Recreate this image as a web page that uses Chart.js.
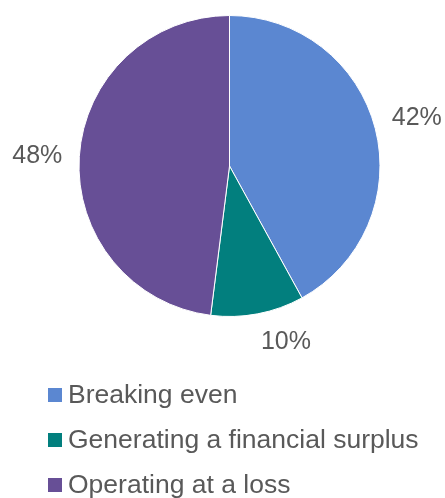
<!DOCTYPE html>
<html>
<head>
<meta charset="utf-8">
<script src="https://cdn.jsdelivr.net/npm/chart.js@4/dist/chart.umd.min.js"></script>
<style>
  html, body { margin: 0; padding: 0; background: #fff; }
  #wrap { width: 445px; height: 498px; }
</style>
</head>
<body>
<div id="wrap"><canvas id="pie" width="445" height="498"></canvas></div>
<script>
// Data
const categories = ['Breaking even', 'Generating a financial surplus', 'Operating at a loss'];
const shares = [42, 10, 48];
const pctLabels = ['42%', '10%', '48%'];
const sliceColors = ['#5B87D1', '#027F7E', '#674F96'];

const textColor = '#595959';
const fontFamily = '"Liberation Sans", Arial, sans-serif';

const clamp = (v) => Math.max(-1, Math.min(1, v));

// Percentage labels outside each slice
const outsideLabels = {
    id: 'outsideLabels',
    afterDatasetsDraw(chart) {
        const ctx = chart.ctx;
        const meta = chart.getDatasetMeta(0);
        ctx.save();
        ctx.font = `25px ${fontFamily}`;
        ctx.fillStyle = textColor;
        ctx.textAlign = 'center';
        ctx.textBaseline = 'middle';
        meta.data.forEach((arc, i) => {
            const p = arc.getProps(['x', 'y', 'startAngle', 'endAngle', 'outerRadius'], true);
            const mid = (p.startAngle + p.endAngle) / 2;
            const cos = Math.cos(mid), sin = Math.sin(mid);
            const dist = p.outerRadius + 17;
            const halfW = ctx.measureText(pctLabels[i]).width / 2;
            // push the label box away from the rim, mostly sideways
            const ox = halfW * clamp(cos * 8);
            const oy = 9 * clamp(sin * 4) + 3;
            ctx.fillText(pctLabels[i], p.x + cos * dist + ox, p.y + sin * dist + oy);
        });
        ctx.restore();
    }
};

// Stacked legend below the pie
const stackedLegend = {
    id: 'stackedLegend',
    afterDraw(chart) {
        const ctx = chart.ctx;
        const ds = chart.data.datasets[0];
        const top = chart.chartArea.bottom + 78;
        const rowGap = 45;
        ctx.save();
        ctx.font = `26.5px ${fontFamily}`;
        ctx.textBaseline = 'middle';
        ctx.textAlign = 'left';
        chart.data.labels.forEach((label, i) => {
            const y = top + i * rowGap;
            ctx.fillStyle = ds.backgroundColor[i];
            ctx.fillRect(48, y - 7, 14, 14);
            ctx.fillStyle = textColor;
            ctx.fillText(label, 68, y + 1);
        });
        ctx.restore();
    }
};

new Chart(document.getElementById('pie'), {
    type: 'pie',
    data: {
        labels: categories,
        datasets: [{
            data: shares,
            backgroundColor: sliceColors,
            borderColor: '#ffffff',
            borderWidth: 1
        }]
    },
    options: {
        responsive: false,
        animation: false,
        layout: {
            padding: { top: 15, left: 78, right: 64, bottom: 181 }
        },
        plugins: {
            legend: { display: false },
            tooltip: { enabled: false }
        }
    },
    plugins: [outsideLabels, stackedLegend]
});
</script>
</body>
</html>
